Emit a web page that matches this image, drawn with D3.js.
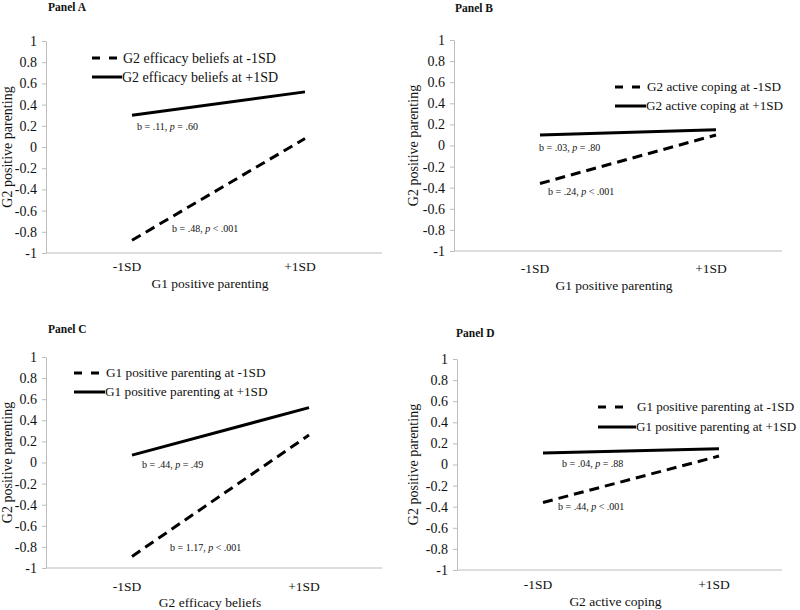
<!DOCTYPE html>
<html>
<head>
<meta charset="utf-8">
<script src="https://cdn.jsdelivr.net/npm/d3@7"></script>
<style>
  html, body { margin: 0; padding: 0; background: #fff; }
  svg { display: block; }
  svg text { font-family: "Liberation Serif", "Times New Roman", Times, "DejaVu Serif", serif !important; fill: #111; }
</style>
</head>
<body>
<svg id="chart" width="800" height="610"></svg>
<script>
// ---------- data ----------
const categories = ["-1SD", "+1SD"];
const yTickValues = [1, 0.8, 0.6, 0.4, 0.2, 0, -0.2, -0.4, -0.6, -0.8, -1];
const yTickLabels = ["1", "0.8", "0.6", "0.4", "0.2", "0", "-0.2", "-0.4", "-0.6", "-0.8", "-1"];

const panelTitles = ["Panel A", "Panel B", "Panel C", "Panel D"];
const xAxisTitles = ["G1 positive parenting", "G1 positive parenting", "G2 efficacy beliefs", "G2 active coping"];
const yAxisTitle = "G2 positive parenting";

const lowLegend = ["G2 efficacy beliefs at -1SD", "G2 active coping at -1SD", "G1 positive parenting at -1SD", "G1 positive parenting at -1SD"];
const highLegend = ["G2 efficacy beliefs at +1SD", "G2 active coping at +1SD", "G1 positive parenting at +1SD", "G1 positive parenting at +1SD"];

// dashed series (moderator at -1SD)
const lowA = [-0.88, 0.08];
const lowB = [-0.36, 0.10];
const lowC = [-0.89, 0.26];
const lowD = [-0.36, 0.08];
// solid series (moderator at +1SD)
const highA = [0.30, 0.52];
const highB = [0.10, 0.15];
const highC = [0.07, 0.52];
const highD = [0.11, 0.15];

// slope annotations: [b text, p relation]
const highNotes = [["b = .11, ", " = .60"], ["b = .03, ", " = .80"], ["b = .44, ", " = .49"], ["b = .04, ", " = .88"]];
const lowNotes  = [["b = .48, ", " < .001"], ["b = .24, ", " < .001"], ["b = 1.17, ", " < .001"], ["b = .44, ", " <  .001"]];

// ---------- layout (positions only) ----------
const layouts = [
  { left: 46,  right: 382, top: 41,  bottom: 253, xr: [132, 305], titleY: 11,  legX: 92,  legTextX: 123, legY: [58, 77], legFs: 14,
    hiNote: [137, 127], loNote: [172, 229], catY: 271, xtY: 288, ytX: 12 },
  { left: 454, right: 782, top: 40,  bottom: 251, xr: [540, 716], titleY: 12,  legX: 615, legTextX: 647, legY: [87, 106], legFs: 13.2,
    hiNote: [539, 148], loNote: [548, 192], catY: 273, xtY: 290, ytX: 418 },
  { left: 46,  right: 382, top: 357, bottom: 568, xr: [132, 309], titleY: 333, legX: 74,  legTextX: 106, legY: [373, 392], legFs: 13.3,
    hiNote: [142, 465], loNote: [170, 548], catY: 591, xtY: 607, ytX: 12 },
  { left: 457, right: 782, top: 359, bottom: 570, xr: [543, 719], titleY: 337, legX: 598, legTextX: 637, legY: [407, 427], legFs: 13.1,
    hiNote: [562, 464], loNote: [558, 507], catY: 589, xtY: 606, ytX: 418 }
];
const titleX = [48, 455, 48, 456];

const lows = [lowA, lowB, lowC, lowD];
const highs = [highA, highB, highC, highD];

const SERIF = '"Liberation Serif", "Times New Roman", Times, "DejaVu Serif", serif';
const svg = d3.select("#chart");

layouts.forEach((L, i) => {
  const g = svg.append("g").attr("font-family", SERIF);
  const y = d3.scaleLinear().domain([-1, 1]).range([L.bottom, L.top]);
  const x = d3.scalePoint().domain(categories).range(L.xr);

  // panel title
  g.append("text").attr("x", titleX[i]).attr("y", L.titleY)
    .style("font-size", "11.5px").style("font-weight", "bold").text(panelTitles[i]);

  // y axis
  const yAxis = d3.axisLeft(y).tickValues(yTickValues)
    .tickFormat(d => yTickLabels[yTickValues.indexOf(d)])
    .tickSizeInner(4).tickSizeOuter(0).tickPadding(5);
  const ya = g.append("g").attr("transform", `translate(${L.left},0)`).call(yAxis)
    .attr("font-family", SERIF).attr("font-size", 14);
  ya.selectAll("path.domain").attr("stroke", "#bdbdbd");
  ya.selectAll(".tick line").attr("stroke", "#bdbdbd");
  ya.selectAll(".tick text").style("font-size", "14px").attr("fill", "#111");

  // x axis baseline
  g.append("line").attr("x1", L.left).attr("x2", L.right)
    .attr("y1", y(-1)).attr("y2", y(-1)).attr("stroke", "#bdbdbd").attr("stroke-width", 1);

  // x category labels
  g.selectAll("text.cat").data(categories).enter().append("text")
    .attr("class", "cat")
    .attr("x", d => x(d) - 5).attr("y", L.catY)
    .attr("text-anchor", "middle").style("font-size", "13.5px").text(d => d);

  // axis titles
  g.append("text").attr("x", (L.left + L.right) / 2 - 4).attr("y", L.xtY)
    .attr("text-anchor", "middle").style("font-size", "13.5px").text(xAxisTitles[i]);
  g.append("text").attr("transform", `translate(${L.ytX},${(L.top + L.bottom) / 2}) rotate(-90)`)
    .attr("text-anchor", "middle").style("font-size", "14px").text(yAxisTitle);

  // lines
  const line = d3.line().x((d, k) => x(categories[k])).y(d => y(d));
  g.append("path").datum(highs[i]).attr("d", line)
    .attr("fill", "none").attr("stroke", "#000").attr("stroke-width", 3);
  g.append("path").datum(lows[i]).attr("d", line)
    .attr("fill", "none").attr("stroke", "#000").attr("stroke-width", 3)
    .attr("stroke-dasharray", "10,6");

  // legend
  g.append("line").attr("x1", L.legX).attr("x2", L.legX + 26)
    .attr("y1", L.legY[0]).attr("y2", L.legY[0])
    .attr("stroke", "#000").attr("stroke-width", 3).attr("stroke-dasharray", "8,9");
  g.append("text").attr("x", L.legTextX).attr("y", L.legY[0]).attr("dy", "0.33em")
    .style("font-size", L.legFs + "px").text(lowLegend[i]);
  g.append("line").attr("x1", L.legX).attr("x2", L.legTextX - 1)
    .attr("y1", L.legY[1]).attr("y2", L.legY[1])
    .attr("stroke", "#000").attr("stroke-width", 3);
  g.append("text").attr("x", L.legTextX - 1).attr("y", L.legY[1]).attr("dy", "0.33em")
    .style("font-size", L.legFs + "px").text(highLegend[i]);

  // annotations
  [[highNotes[i], L.hiNote], [lowNotes[i], L.loNote]].forEach(([n, pos]) => {
    const t = g.append("text").attr("x", pos[0]).attr("y", pos[1]).attr("dy", "0.33em")
      .style("font-size", "10px");
    t.append("tspan").text(n[0]);
    t.append("tspan").style("font-style", "italic").text("p");
    t.append("tspan").text(n[1]);
  });
});
</script>
</body>
</html>
